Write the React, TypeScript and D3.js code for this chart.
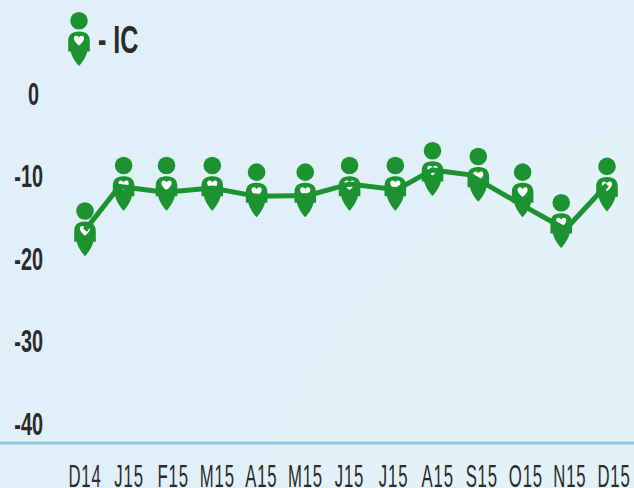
import * as d3 from "d3";

const months = ["D14", "J15", "F15", "M15", "A15", "M15", "J15", "J15", "A15", "S15", "O15", "N15", "D15"];
const yTicks = [0, -10, -20, -30, -40];

// days after 15 Dec 2014
const lineDays = [0, 24, 56, 89, 120, 156, 185, 218, 243, 269, 306, 336, 365];
const lineValues = [-16.5, -11.2, -11.9, -11.4, -12.4, -12.3, -10.9, -11.6, -9.2, -9.8, -13.5, -16.4, -11];

// the people sit a bit off the line in the original
const iconDays = [0, 27, 57, 89, 120, 154, 185, 217, 243, 275, 306, 333, 365];
const iconValues = [-16.5, -11, -11, -11, -11.8, -11.8, -11, -11, -9.2, -9.9, -11.8, -15.5, -11.1];

const width = 634;
const height = 488;
const green = "#1c9330";
const ink = "#2c2a29";
const font = "'Liberation Sans', sans-serif";

const x = d3.scaleLinear([0, 365], [85, 607]);
const y = d3.scaleLinear([0, -40], [94, 424]);
const xLabels = d3.scalePoint(months.map((_, i) => i), [85, 614]);

const line = d3.line<number>()
  .x((_, i) => x(lineDays[i]))
  .y((d) => y(d));

function Person({ cx, cy }: { cx: number; cy: number }) {
  return (
    <g transform={`translate(${cx},${cy})`}>
      <circle cy={-19.2} r={8.8} fill={green} />
      <path
        fill={green}
        d="M0,-8.6C7.5,-8.6 10.8,-5 10.8,1L10.8,11.5L8.4,11.5C7,17 3,23 0,26C-3,23 -7,17 -8.4,11.5L-10.8,11.5L-10.8,1C-10.8,-5 -7.5,-8.6 0,-8.6Z"
      />
      <path
        fill="#fff"
        d="M0,5.5C-6.2,1 -6.2,-4.2 -3,-4.2C-1.1,-4.2 0,-2.7 0,-1.9C0,-2.7 1.1,-4.2 3,-4.2C6.2,-4.2 6.2,1 0,5.5Z"
      />
    </g>
  );
}

function Squeezed({ x, y, sx, size, weight, anchor, spacing, children }: any) {
  return (
    <text
      transform={`translate(${x},${y}) scale(${sx},1)`}
      fontFamily={font}
      fontSize={size}
      fontWeight={weight}
      textAnchor={anchor}
      letterSpacing={spacing}
      fill={ink}
    >
      {children}
    </text>
  );
}

export default function App() {
  return (
    <svg
      width={width}
      height={height}
      viewBox={`0 0 ${width} ${height}`}
      style={{ position: "fixed", left: 0, top: 0, display: "block" }}
    >
      <rect width={width} height={height} fill="#e1f0f8" />
      <path d="M262,488C300,350 430,160 634,128L634,488Z" fill="#e3f1f8" />
      <line x1={0} x2={width} y1={443} y2={443} stroke="#8cc8e2" strokeWidth={3} />

      {yTicks.map((t) => (
        <Squeezed key={t} x={t === 0 ? 39 : 43} y={y(t) + 10.5} sx={0.62} size={32} weight={700} anchor="end">
          {t}
        </Squeezed>
      ))}

      {months.map((m, i) => (
        <Squeezed key={i} x={xLabels(i)} y={487} sx={0.54} size={31} weight={400} anchor="middle" spacing={1.5}>
          {m}
        </Squeezed>
      ))}

      {iconValues.map((v, i) => (
        <Person key={i} cx={x(iconDays[i])} cy={y(v)} />
      ))}
      <path d={line(lineValues) ?? ""} fill="none" stroke={green} strokeWidth={5} />

      <Person cx={79} cy={40} />
      <Squeezed x={98} y={53} sx={0.66} size={38} weight={700} anchor="start">
        - IC
      </Squeezed>
    </svg>
  );
}
